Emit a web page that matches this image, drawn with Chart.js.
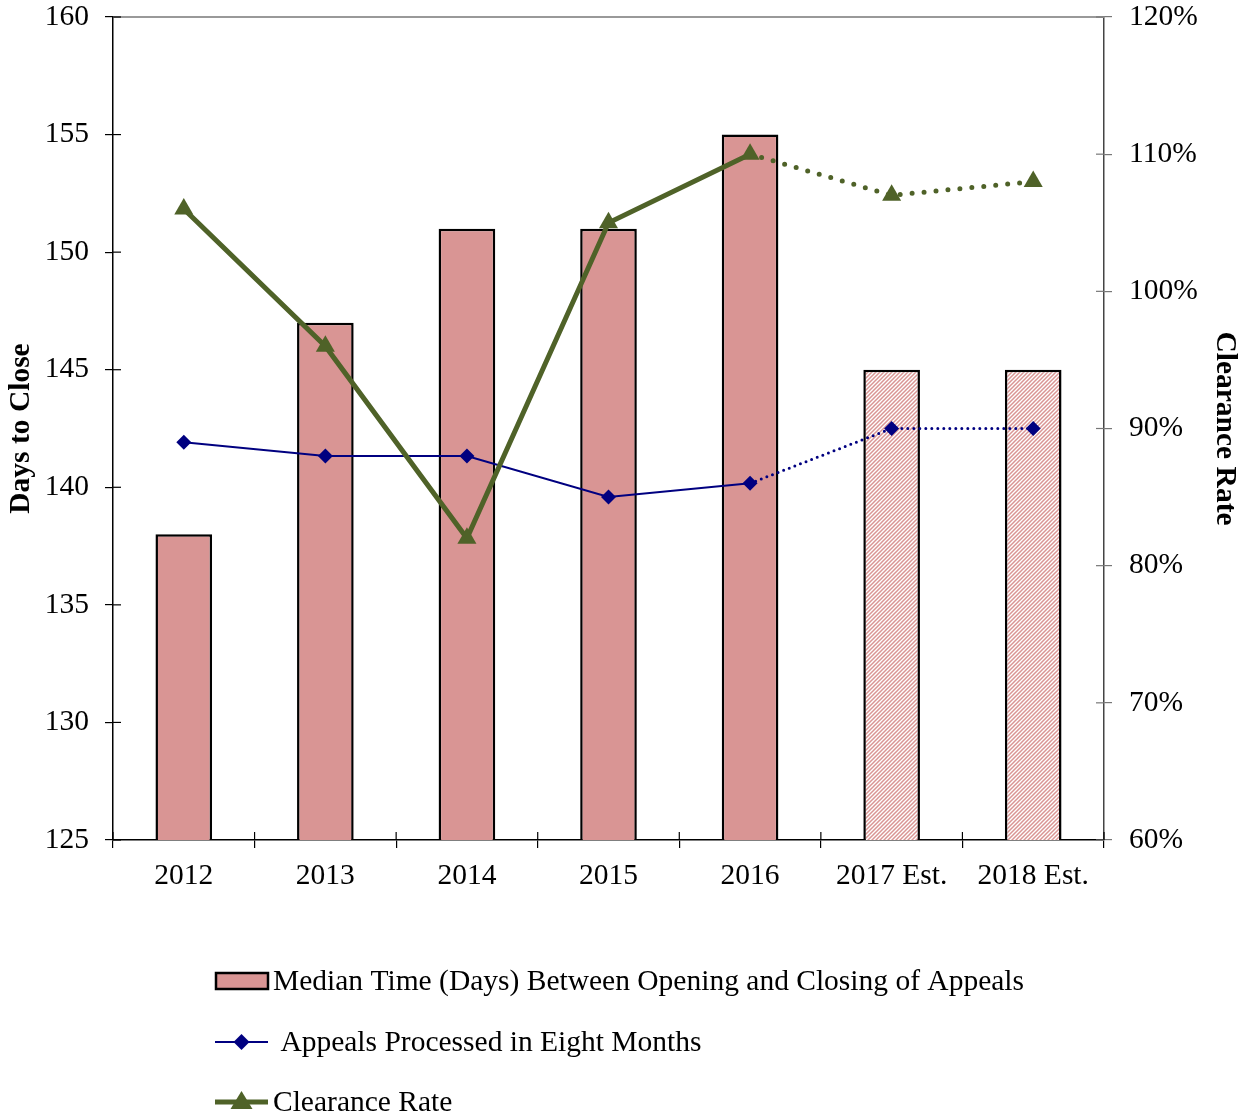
<!doctype html>
<html>
<head>
<meta charset="utf-8" />
<title>Days to Close and Clearance Rate</title>
<style>
  html, body { margin: 0; padding: 0; background: #fff; }
  #wrap { width: 1246px; height: 1116px; position: relative; }
</style>
<script src="https://cdn.jsdelivr.net/npm/chart.js"></script>
</head>
<body>
<div id="wrap"><canvas id="chart" width="1246" height="1116"></canvas></div>
<script>
const categories = ['2012', '2013', '2014', '2015', '2016', '2017 Est.', '2018 Est.'];
const medianDays = [138, 147, 151, 151, 155, 145, 145];
const appealsEightMonths = [89, 88, 88, 85, 86, 90, 90];
const clearanceRate = [106, 96, 82, 105, 110, 107, 108];
const estimated = [false, false, false, false, false, true, true];

const seriesNames = [
  'Median Time (Days) Between Opening and Closing of Appeals',
  ' Appeals Processed in Eight Months',
  'Clearance Rate'
];

const PINK = '#D99594';
const NAVY = '#000080';
const GREEN = '#4F6228';
const FONT = '"Liberation Serif", "Times New Roman", serif';

function makeHatch() {
  const c = document.createElement('canvas');
  c.width = 4; c.height = 4;
  const g = c.getContext('2d');
  g.fillStyle = '#fff';
  g.fillRect(0, 0, 4, 4);
  g.strokeStyle = PINK;
  g.lineWidth = 1.5;
  g.beginPath();
  g.moveTo(0, 4); g.lineTo(4, 0);
  g.moveTo(-1, 1); g.lineTo(1, -1);
  g.moveTo(3, 5); g.lineTo(5, 3);
  g.stroke();
  return g.createPattern(c, 'repeat');
}
const hatch = makeHatch();

// ticks crossing the axes + top border
const crossTicks = {
  id: 'crossTicks',
  afterDraw(chart) {
    const { ctx, chartArea: a, scales } = chart;
    ctx.save();
    ctx.strokeStyle = '#999';
    ctx.lineWidth = 2;
    ctx.beginPath(); ctx.moveTo(a.left, a.top); ctx.lineTo(a.right, a.top); ctx.stroke();
    ctx.lineWidth = 1.2;
    ctx.strokeStyle = '#000';
    scales.y.ticks.forEach((t, i) => {
      const y = scales.y.getPixelForTick(i);
      ctx.beginPath(); ctx.moveTo(a.left, y); ctx.lineTo(a.left + 8, y); ctx.stroke();
    });
    ctx.strokeStyle = '#777';
    scales.y2.ticks.forEach((t, i) => {
      const y = scales.y2.getPixelForTick(i);
      ctx.beginPath(); ctx.moveTo(a.right - 8, y); ctx.lineTo(a.right, y); ctx.stroke();
    });
    ctx.strokeStyle = '#000';
    const n = categories.length;
    const step = (a.right - a.left) / n;
    for (let i = 0; i <= n; i++) {
      const x = a.left + i * step;
      ctx.beginPath(); ctx.moveTo(x, a.bottom - 8); ctx.lineTo(x, a.bottom); ctx.stroke();
    }
    ctx.restore();
  }
};

// legend drawn under the chart, one item per line
const stackedLegend = {
  id: 'stackedLegend',
  afterDraw(chart) {
    const ctx = chart.ctx;
    const x0 = 215, x1 = 268;
    const rows = [981, 1042, 1102];
    ctx.save();
    ctx.font = '29.5px ' + FONT;
    ctx.textBaseline = 'middle';

    ctx.fillStyle = PINK;
    ctx.fillRect(x0 + 1, rows[0] - 8, x1 - x0 - 1, 16);
    ctx.strokeStyle = '#000'; ctx.lineWidth = 2.5;
    ctx.strokeRect(x0 + 1, rows[0] - 8, x1 - x0 - 1, 16);

    ctx.strokeStyle = NAVY; ctx.lineWidth = 2;
    ctx.beginPath(); ctx.moveTo(x0, rows[1]); ctx.lineTo(x1, rows[1]); ctx.stroke();
    ctx.fillStyle = NAVY;
    const cx = (x0 + x1) / 2;
    ctx.beginPath();
    ctx.moveTo(cx, rows[1] - 8); ctx.lineTo(cx + 8, rows[1]); ctx.lineTo(cx, rows[1] + 8); ctx.lineTo(cx - 8, rows[1]);
    ctx.closePath(); ctx.fill();

    ctx.strokeStyle = GREEN; ctx.lineWidth = 5;
    ctx.beginPath(); ctx.moveTo(x0, rows[2]); ctx.lineTo(x1, rows[2]); ctx.stroke();
    ctx.fillStyle = GREEN;
    ctx.beginPath();
    ctx.moveTo(cx, rows[2] - 11); ctx.lineTo(cx + 11, rows[2] + 7); ctx.lineTo(cx - 11, rows[2] + 7);
    ctx.closePath(); ctx.fill();

    ctx.fillStyle = '#000';
    seriesNames.forEach((s, i) => ctx.fillText(s, x1 + 5, rows[i] + 1));
    ctx.restore();
  }
};

const tickFont = { family: FONT, size: 29.5 };
const titleFont = { family: FONT, size: 29.5, weight: 'bold' };

new Chart(document.getElementById('chart'), {
  type: 'bar',
  data: {
    labels: categories,
    datasets: [
      {
        type: 'line',
        label: seriesNames[2],
        data: clearanceRate,
        yAxisID: 'y2',
        order: 1,
        borderColor: GREEN,
        backgroundColor: GREEN,
        borderWidth: 5,
        borderCapStyle: 'round',
        pointStyle: 'triangle',
        pointRadius: 11,
        pointBorderWidth: 0,
        tension: 0,
        segment: { borderDash: c => (c.p0DataIndex >= 4 ? [0, 12] : []) }
      },
      {
        type: 'line',
        label: seriesNames[1],
        data: appealsEightMonths,
        yAxisID: 'y2',
        order: 2,
        borderColor: NAVY,
        backgroundColor: NAVY,
        borderWidth: 2,
        borderCapStyle: 'round',
        pointStyle: 'rectRot',
        pointRadius: 7.5,
        pointBorderWidth: 0,
        tension: 0,
        segment: {
          borderDash: c => (c.p0DataIndex >= 4 ? [0, 6] : []),
          borderWidth: c => (c.p0DataIndex >= 4 ? 3 : 2)
        }
      },
      {
        label: seriesNames[0],
        data: medianDays,
        yAxisID: 'y',
        order: 3,
        backgroundColor: estimated.map(e => (e ? hatch : PINK)),
        borderColor: '#000',
        borderWidth: 2.5,
        borderSkipped: false,
        categoryPercentage: 1,
        barPercentage: 0.4
      }
    ]
  },
  options: {
    responsive: false,
    animation: false,
    layout: { padding: { top: 17, left: 0, right: 0, bottom: 0 } },
    plugins: { legend: { display: false }, tooltip: { enabled: false } },
    scales: {
      x: {
        grid: { drawOnChartArea: false, tickLength: 8, color: '#000', lineWidth: 1.2, offset: true },
        border: { color: '#000', width: 1.5 },
        ticks: { font: tickFont, color: '#000', padding: 11, maxRotation: 0 },
        afterFit(s) { s.height = 276; s.paddingLeft = 0; s.paddingRight = 0; }
      },
      y: {
        position: 'left',
        min: 125, max: 160,
        ticks: { stepSize: 5, font: tickFont, color: '#000', padding: 16 },
        grid: { drawOnChartArea: false, tickLength: 8, color: '#000', lineWidth: 1.2 },
        border: { color: '#000', width: 1.5 },
        title: { display: true, text: 'Days to Close', font: titleFont, color: '#000', padding: { top: 4, bottom: 0 } },
        afterFit(s) { s.width = 113; s.paddingTop = 0; s.paddingBottom = 0; }
      },
      y2: {
        position: 'right',
        min: 60, max: 120,
        ticks: { stepSize: 10, font: tickFont, color: '#000', padding: 17, callback: v => v + '%' },
        grid: { drawOnChartArea: false, tickLength: 8, color: '#777', lineWidth: 1.2 },
        border: { color: '#444', width: 1.5 },
        title: { display: true, text: 'Clearance Rate', font: titleFont, color: '#000', padding: { top: 4, bottom: 4 } },
        afterFit(s) { s.width = 142; s.paddingTop = 0; s.paddingBottom = 0; }
      }
    }
  },
  plugins: [crossTicks, stackedLegend]
});
</script>
</body>
</html>
